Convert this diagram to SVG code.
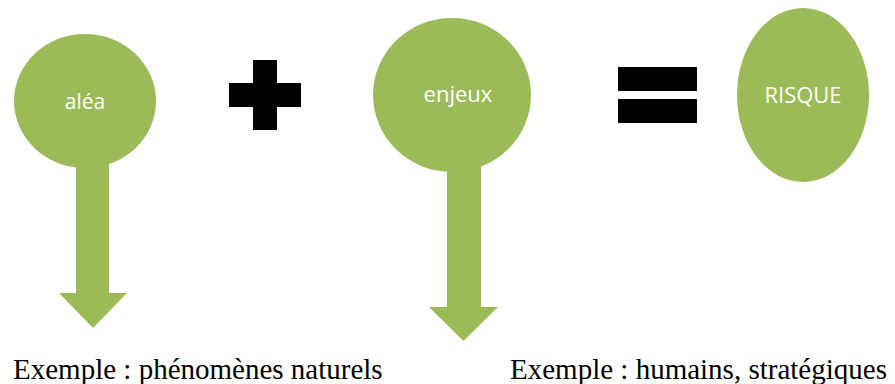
<svg xmlns="http://www.w3.org/2000/svg" width="895" height="384" viewBox="0 0 895 384">
<style>
.g{fill:#9bbb59}
.lbl{font-family:"Open Sans","Liberation Sans",sans-serif;fill:#fff;text-anchor:middle}
.sym{fill:#000}
.cap{font-family:"Liberation Serif","Times New Roman",serif;font-size:29px;fill:#000}
</style>
<rect width="895" height="384" fill="#fff"/>
<g id="connectors">
<path class="g" d="M76,160 H109 V293 H127 L93,328 L59,293 H76 Z"/>
<path class="g" d="M447,165 H481 V307 H498 L463.5,341 L429,307 H447 Z"/>
</g>
<g id="alea">
<ellipse class="g" cx="85" cy="101" rx="71" ry="67"/>
<text class="lbl" x="85" y="109" font-size="21">aléa</text>
</g>
<g id="plus">
<rect class="sym" x="253" y="60" width="24" height="70"/>
<rect class="sym" x="229" y="83" width="72" height="24"/>
</g>
<g id="enjeux">
<ellipse class="g" cx="452" cy="95" rx="79" ry="77"/>
<text class="lbl" x="458" y="102" font-size="22">enjeux</text>
</g>
<g id="equals">
<rect class="sym" x="618" y="67" width="79" height="24"/>
<rect class="sym" x="618" y="99" width="79" height="24"/>
</g>
<g id="risque">
<ellipse class="g" cx="803" cy="95" rx="66" ry="87"/>
<text class="lbl" x="803" y="103" font-size="22">RISQUE</text>
</g>
<text class="cap" x="13" y="379">Exemple : phénomènes naturels</text>
<text class="cap" x="510" y="379">Exemple : humains, stratégiques</text>
</svg>
